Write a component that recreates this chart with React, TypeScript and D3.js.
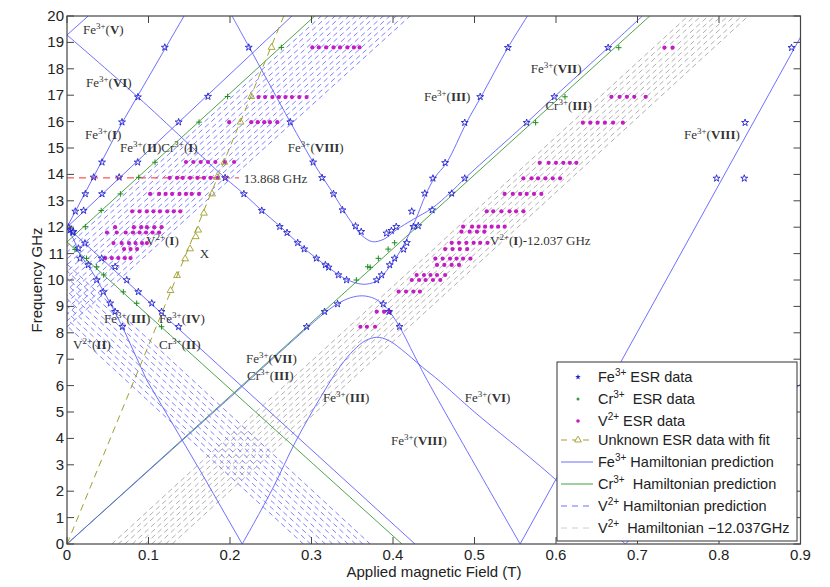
import React from 'react';
import * as d3 from 'd3';

type Pt = [number, number];

// axis ticks
const xTicks = [0, 0.1, 0.2, 0.3, 0.4, 0.5, 0.6, 0.7, 0.8, 0.9];
const yTicks = [0, 1, 2, 3, 4, 5, 6, 7, 8, 9, 10, 11, 12, 13, 14, 15, 16, 17, 18, 19, 20];

// Fe3+ Hamiltonian prediction curves (field T, frequency GHz)
const feV: Pt[] = [[0, 19.28], [0.026, 20]];
const feI: Pt[] = [[0, 12.0], [0.0675, 15.95], [0.1436, 20]];
const feII: Pt[] = [[0, 12.0], [0.276, 20]];
const feIV: Pt[] = [[0, 12.0], [0.427, 0]];
const feIIIlow: Pt[] = [[0, 12.0], [0.008, 11.55], [0.016, 10.95], [0.026, 10.55], [0.037, 10.0], [0.053, 9.12], [0.068, 8.23], [0.098, 6.2], [0.163, 2.8], [0.215, 0]];
const feVIreflect: Pt[] = [[0.685, 0], [0.9, 6.06]];
const feVIIIright: Pt[] = [[0.556, 0], [0.9, 19.2]];
const feVI: Pt[] = [[0, 19.28], [0.087, 16.93], [0.194, 13.87], [0.217, 13.26], [0.239, 12.63], [0.262, 12.02], [0.285, 11.35], [0.307, 10.8], [0.325, 10.38], [0.343, 10.02], [0.363, 9.84], [0.378, 9.93], [0.388, 10.2], [0.397, 10.55], [0.406, 10.95], [0.416, 11.5], [0.428, 12.3], [0.44, 13.22], [0.451, 13.87], [0.466, 14.45], [0.49, 15.95], [0.508, 16.94], [0.541, 18.8], [0.565, 20]];
const feVIII: Pt[] = [[0.2025, 20], [0.223, 18.85], [0.274, 15.98], [0.302, 14.46], [0.314, 13.87], [0.327, 13.26], [0.339, 12.65], [0.351, 12.1], [0.362, 11.68], [0.375, 11.45], [0.389, 11.55], [0.404, 11.9], [0.425, 12.3], [0.448, 12.72], [0.47, 13.3], [0.49, 13.9], [0.564, 15.96], [0.598, 16.94], [0.664, 18.8], [0.706, 20]];
const feVII: Pt[] = [[0, 0], [0.2, 5.55], [0.294, 8.17], [0.316, 8.75], [0.332, 9.1], [0.348, 9.33], [0.363, 9.4], [0.377, 9.3], [0.388, 9.07], [0.397, 8.75], [0.408, 8.23], [0.429, 6.97], [0.442, 6.2], [0.556, 0]];
const feIIIhump: Pt[] = [[0.215, 0], [0.2515, 2.05], [0.28, 3.85], [0.31, 5.5], [0.335, 6.72], [0.352, 7.35], [0.366, 7.7], [0.38, 7.83], [0.394, 7.72], [0.41, 7.38], [0.436, 6.7], [0.458, 6.15], [0.5, 5.0], [0.593, 2.62], [0.685, 0]];

// Cr3+ Hamiltonian prediction (green)
const crI: Pt[] = [[0, 11.44], [0.304, 20]];
const crII: Pt[] = [[0, 11.44], [0.411, 0]];
const crIII: Pt[] = [[0, 0], [0.715, 20]];

// unknown line fit and 13.868 GHz marker
const unknownFit: Pt[] = [[0, 0], [0.266, 20]];
const refLine: Pt[] = [[0, 13.868], [0.211, 13.868]];

// V2+ hyperfine lines [x0, f0, x1, f1]
const vBandI: number[][] = [
  [-0.117, 8, 0.312, 20], [-0.109, 8, 0.32, 20], [-0.1, 8, 0.329, 20], [-0.092, 8, 0.337, 20],
  [-0.083, 8, 0.346, 20], [-0.075, 8, 0.354, 20], [-0.067, 8, 0.362, 20], [-0.058, 8, 0.371, 20],
  [-0.05, 8, 0.379, 20], [-0.041, 8, 0.388, 20], [-0.033, 8, 0.396, 20], [-0.025, 8, 0.404, 20],
  [-0.016, 8, 0.413, 20], [-0.008, 8, 0.421, 20],
];
const vBandII: number[][] = [
  [-0.082, 10.6, 0.29, 0], [-0.073, 10.6, 0.299, 0], [-0.064, 10.6, 0.308, 0], [-0.055, 10.6, 0.317, 0],
  [-0.046, 10.6, 0.326, 0], [-0.036, 10.6, 0.336, 0], [-0.027, 10.6, 0.345, 0], [-0.018, 10.6, 0.354, 0],
  [-0.009, 10.6, 0.363, 0], [0.0, 10.6, 0.372, 0],
];
const vBandShift: number[][] = [
  [0.055, 0, 0.762, 20], [0.063, 0, 0.77, 20], [0.071, 0, 0.778, 20], [0.08, 0, 0.787, 20],
  [0.088, 0, 0.795, 20], [0.096, 0, 0.803, 20], [0.104, 0, 0.811, 20], [0.112, 0, 0.819, 20],
  [0.121, 0, 0.828, 20], [0.129, 0, 0.836, 20],
];

// Fe3+ ESR data
const feData: Pt[] = [
  [0.0102, 12.6], [0.0225, 13.26], [0.0327, 13.89], [0.043, 14.46], [0.0675, 15.98], [0.087, 16.93], [0.12, 18.81],
  [0.0204, 12.63], [0.043, 13.26], [0.064, 13.89], [0.0867, 14.46], [0.137, 15.98], [0.173, 16.95],
  [0.194, 13.87], [0.217, 13.26], [0.239, 12.63], [0.261, 12.02], [0.27, 11.79], [0.283, 11.41], [0.291, 11.17],
  [0.306, 10.82], [0.317, 10.57], [0.321, 10.48], [0.333, 10.19], [0.343, 10.0],
  [0.38, 10.0], [0.386, 10.19], [0.396, 10.57], [0.402, 10.82], [0.413, 11.16], [0.417, 11.41], [0.423, 12.6],
  [0.439, 13.28], [0.449, 13.85], [0.464, 14.44], [0.488, 15.96], [0.507, 16.94], [0.541, 18.8],
  [0.223, 18.81], [0.274, 15.98], [0.302, 14.46], [0.313, 13.87], [0.327, 13.26], [0.338, 12.65], [0.354, 12.04],
  [0.361, 11.83], [0.392, 11.77], [0.398, 11.87], [0.404, 12.02], [0.425, 12.02], [0.431, 12.05], [0.448, 12.65],
  [0.472, 13.28], [0.488, 13.85], [0.564, 15.96], [0.598, 16.94], [0.664, 18.8],
  [0.294, 8.23], [0.316, 8.8], [0.332, 9.09], [0.388, 9.09], [0.395, 8.8], [0.408, 8.23],
  [0.797, 13.85], [0.831, 13.85], [0.832, 15.96], [0.889, 18.8],
  [0.0078, 11.83], [0.022, 11.39], [0.0425, 10.82], [0.059, 10.5], [0.0733, 10.0], [0.0875, 9.55], [0.104, 9.12], [0.116, 8.8], [0.137, 8.23],
  [0.016, 10.82], [0.026, 10.57], [0.0364, 10.0], [0.0446, 9.55], [0.053, 9.12], [0.059, 8.8], [0.068, 8.23],
  [0.0037, 11.89], [0.007, 11.8], [0.014, 11.2], [0.002, 12.0],
];

// Cr3+ ESR data
const crData: Pt[] = [
  [0.0225, 12.02], [0.042, 12.63], [0.0655, 13.26], [0.088, 13.89], [0.108, 14.46], [0.162, 15.98], [0.197, 16.95], [0.263, 18.81],
  [0.0098, 11.16], [0.024, 10.82], [0.0364, 10.5], [0.045, 10.19], [0.0691, 9.55], [0.0855, 9.12], [0.116, 8.23],
  [0.355, 10.0], [0.369, 10.5], [0.372, 10.48], [0.382, 10.82], [0.394, 11.17], [0.402, 11.41],
  [0.575, 15.96], [0.611, 16.94], [0.677, 18.8],
];

// V2+ ESR data rows: frequency and fields
const vRowsI: { f: number; xs: number[] }[] = [
  { f: 18.81, xs: [0.301, 0.309, 0.318, 0.327, 0.335, 0.344, 0.352, 0.359] },
  { f: 16.93, xs: [0.235, 0.243, 0.252, 0.26, 0.268, 0.276, 0.285, 0.294] },
  { f: 15.98, xs: [0.199, 0.226, 0.234, 0.242, 0.249, 0.258] },
  { f: 14.47, xs: [0.146, 0.155, 0.164, 0.173, 0.182, 0.194, 0.205] },
  { f: 13.87, xs: [0.126, 0.135, 0.142, 0.151, 0.16, 0.168, 0.176, 0.185] },
  { f: 13.26, xs: [0.102, 0.113, 0.121, 0.129, 0.138, 0.146, 0.153, 0.162] },
  { f: 12.6, xs: [0.08, 0.089, 0.098, 0.106, 0.114, 0.123, 0.131, 0.139] },
  { f: 12.0, xs: [0.059, 0.082, 0.091, 0.098, 0.107, 0.116] },
  { f: 11.8, xs: [0.049, 0.061, 0.072, 0.081, 0.089, 0.097, 0.105, 0.113] },
  { f: 11.4, xs: [0.057, 0.067, 0.076, 0.084, 0.092, 0.098] },
  { f: 11.17, xs: [0.07, 0.078, 0.086] },
  { f: 10.83, xs: [0.047, 0.055, 0.063, 0.071, 0.078] },
];
const vRowsShift: { f: number; xs: number[] }[] = [
  { f: 18.8, xs: [0.733, 0.743] },
  { f: 16.94, xs: [0.668, 0.678, 0.687, 0.696, 0.71] },
  { f: 15.96, xs: [0.633, 0.642, 0.651, 0.66, 0.67, 0.682] },
  { f: 14.44, xs: [0.58, 0.591, 0.6, 0.609, 0.617, 0.625] },
  { f: 13.85, xs: [0.56, 0.57, 0.578, 0.587, 0.596, 0.605] },
  { f: 13.26, xs: [0.537, 0.547, 0.556, 0.564, 0.573, 0.582] },
  { f: 12.6, xs: [0.515, 0.523, 0.533, 0.543, 0.551, 0.56] },
  { f: 12.02, xs: [0.486, 0.497, 0.505, 0.513, 0.521, 0.529, 0.537] },
  { f: 11.83, xs: [0.484, 0.494, 0.503, 0.512] },
  { f: 11.41, xs: [0.472, 0.481, 0.49, 0.499, 0.507, 0.516] },
  { f: 11.17, xs: [0.464, 0.473, 0.482, 0.491] },
  { f: 10.81, xs: [0.452, 0.461, 0.47, 0.478, 0.486, 0.495] },
  { f: 10.57, xs: [0.454, 0.463, 0.472, 0.481] },
  { f: 10.19, xs: [0.429, 0.438, 0.446, 0.454, 0.464] },
  { f: 10.0, xs: [0.423, 0.432, 0.44, 0.449, 0.458] },
  { f: 9.56, xs: [0.407, 0.416, 0.425, 0.433] },
  { f: 8.8, xs: [0.38, 0.389, 0.396] },
  { f: 8.23, xs: [0.36, 0.368, 0.378] },
];

// unknown ESR data
const unknownData: Pt[] = [
  [0.127, 9.6], [0.135, 10.17], [0.145, 10.8], [0.151, 11.18], [0.158, 11.64], [0.161, 11.89], [0.168, 12.53],
  [0.178, 13.26], [0.184, 13.89], [0.193, 14.46], [0.213, 15.98], [0.226, 16.95], [0.251, 18.81],
];

// annotations: [ion, charge, roman]
const ionLabels: { x: number; y: number; parts: string[][]; tail?: string }[] = [
  { x: 0.0196, y: 19.32, parts: [['Fe', '3+', 'V']] },
  { x: 0.0233, y: 17.31, parts: [['Fe', '3+', 'VI']] },
  { x: 0.0221, y: 15.34, parts: [['Fe', '3+', 'I']] },
  { x: 0.065, y: 14.85, parts: [['Fe', '3+', 'II'], ['Cr', '3+', 'I']] },
  { x: 0.271, y: 14.85, parts: [['Fe', '3+', 'VIII']] },
  { x: 0.438, y: 16.78, parts: [['Fe', '3+', 'III']] },
  { x: 0.569, y: 17.84, parts: [['Fe', '3+', 'VII']] },
  { x: 0.587, y: 16.44, parts: [['Cr', '3+', 'III']] },
  { x: 0.757, y: 15.34, parts: [['Fe', '3+', 'VIII']] },
  { x: 0.097, y: 11.33, parts: [['V', '2+', 'I']] },
  { x: 0.519, y: 11.33, parts: [['V', '2+', 'I']], tail: '-12.037 GHz' },
  { x: 0.0454, y: 8.37, parts: [['Fe', '3+', 'III']] },
  { x: 0.113, y: 8.37, parts: [['Fe', '3+', 'IV']] },
  { x: 0.0074, y: 7.39, parts: [['V', '2+', 'II']] },
  { x: 0.113, y: 7.39, parts: [['Cr', '3+', 'II']] },
  { x: 0.2196, y: 6.87, parts: [['Fe', '3+', 'VII']] },
  { x: 0.221, y: 6.2, parts: [['Cr', '3+', 'III']] },
  { x: 0.314, y: 5.38, parts: [['Fe', '3+', 'III']] },
  { x: 0.488, y: 5.38, parts: [['Fe', '3+', 'VI']] },
  { x: 0.3975, y: 3.75, parts: [['Fe', '3+', 'VIII']] },
];
const plainLabels: { x: number; y: number; t: string }[] = [
  { x: 0.217, y: 13.67, t: '13.868 GHz' },
  { x: 0.163, y: 10.83, t: 'X' },
];

const BLUE = '#5f5fff';
const STAR = '#2222cc';
const GREEN = '#3a9a3a';
const MAGENTA = '#c41cc4';
const OLIVE = '#a0a030';
const GRAY = '#9a9a9a';
const SANS = 'Liberation Sans, Arial, sans-serif';
const SERIF = 'Liberation Serif, Times New Roman, serif';

const App = () => {
  const x = d3.scaleLinear().domain([0, 0.9]).range([67, 800.5]);
  const y = d3.scaleLinear().domain([0, 20]).range([544, 16]);
  const straight = d3.line<Pt>().x(d => x(d[0])).y(d => y(d[1]));
  const smooth = d3.line<Pt>().x(d => x(d[0])).y(d => y(d[1])).curve(d3.curveCatmullRom.alpha(0.5));
  const seg = (s: number[]) => straight([[s[0], s[1]], [s[2], s[3]]]) as string;
  const starPath = d3.symbol(d3.symbolStar, 15)() as string;
  const triPath = d3.symbol(d3.symbolTriangle, 20)() as string;
  const plusPath = 'M-2.8,0H2.8M0,-2.8V2.8';

  const [x0, x1] = x.range();
  const [yb, yt] = y.range();

  const ion = (p: string[], i: number) => (
    <React.Fragment key={i}>
      <tspan>{p[0]}</tspan>
      <tspan dy={-5} fontSize={9}>{p[1]}</tspan>
      <tspan dy={5}>(</tspan>
      <tspan fontWeight="bold">{p[2]}</tspan>
      <tspan>)</tspan>
    </React.Fragment>
  );

  const legendRows = [
    { yy: 377, kind: 'star', label: ['Fe', '3+', ' ESR data'] },
    { yy: 399, kind: 'gdot', label: ['Cr', '3+', '  ESR data'] },
    { yy: 421, kind: 'mdot', label: ['V', '2+', ' ESR data'] },
    { yy: 440, kind: 'tri', label: ['Unknown ESR data with fit', '', ''] },
    { yy: 462, kind: 'fe', label: ['Fe', '3+', ' Hamiltonian prediction'] },
    { yy: 484, kind: 'cr', label: ['Cr', '3+', '  Hamiltonian prediction'] },
    { yy: 506, kind: 'v', label: ['V', '2+', ' Hamiltonian prediction'] },
    { yy: 528, kind: 'vs', label: ['V', '2+', '  Hamiltonian \u221212.037GHz'] },
  ];

  return (
    <svg width={830} height={587} style={{ position: 'absolute', left: 0, top: 0, background: '#fff' }}>
      <defs>
        <clipPath id="plot">
          <rect x={x0} y={yt} width={x1 - x0} height={yb - yt} />
        </clipPath>
      </defs>

      <g clipPath="url(#plot)">
        {/* V2+ predicted hyperfine lines */}
        {vBandShift.map((s, i) => (
          <path key={'g' + i} d={seg(s)} stroke={GRAY} strokeWidth={0.8} strokeDasharray="5,3.5" fill="none" />
        ))}
        {vBandI.concat(vBandII).map((s, i) => (
          <path key={'v' + i} d={seg(s)} stroke={BLUE} strokeWidth={0.8} strokeDasharray="5,3.5" fill="none" />
        ))}

        {/* Cr3+ prediction */}
        {[crI, crII, crIII].map((c, i) => (
          <path key={'c' + i} d={straight(c) as string} stroke={GREEN} strokeWidth={0.9} fill="none" />
        ))}

        {/* Fe3+ prediction */}
        {[feV, feI, feII, feIV, feIIIlow, feVIreflect, feVIIIright].map((c, i) => (
          <path key={'f' + i} d={straight(c) as string} stroke={BLUE} strokeWidth={0.9} fill="none" />
        ))}
        {[feVI, feVIII, feVII, feIIIhump].map((c, i) => (
          <path key={'s' + i} d={smooth(c) as string} stroke={BLUE} strokeWidth={0.9} fill="none" />
        ))}

        {/* unknown fit and reference line */}
        <path d={straight(unknownFit) as string} stroke={OLIVE} strokeWidth={1} strokeDasharray="7,5" fill="none" />
        <path d={straight(refLine) as string} stroke="#ff2a2a" strokeWidth={1} strokeDasharray="7,5" fill="none" />

        {/* data */}
        {vRowsI.concat(vRowsShift).map((r, i) =>
          r.xs.map((v, j) => (
            <circle key={'m' + i + '-' + j} cx={x(v)} cy={y(r.f)} r={2.1} fill={MAGENTA} />
          ))
        )}
        {unknownData.map((d, i) => (
          <path key={'u' + i} d={triPath} transform={`translate(${x(d[0])},${y(d[1])})`} fill="none" stroke={OLIVE} strokeWidth={0.9} />
        ))}
        {crData.map((d, i) => (
          <path key={'p' + i} d={plusPath} transform={`translate(${x(d[0])},${y(d[1])})`} stroke="#1c8c1c" strokeWidth={1} />
        ))}
        {feData.map((d, i) => (
          <path key={'st' + i} d={starPath} transform={`translate(${x(d[0])},${y(d[1])})`} fill="none" stroke={STAR} strokeWidth={0.9} />
        ))}
      </g>

      {/* annotations */}
      {ionLabels.map((l, i) => (
        <text key={'l' + i} x={x(l.x)} y={y(l.y)} fontFamily={SERIF} fontSize={13} fill="#333">
          {l.parts.map((p, j) => ion(p, j))}
          {l.tail ? <tspan>{l.tail}</tspan> : null}
        </text>
      ))}
      {plainLabels.map((l, i) => (
        <text key={'pl' + i} x={x(l.x)} y={y(l.y)} fontFamily={SERIF} fontSize={13} fill="#333">{l.t}</text>
      ))}

      {/* frame and ticks */}
      <rect x={x0} y={yt} width={x1 - x0} height={yb - yt} fill="none" stroke="#444" strokeWidth={1.2} />
      {xTicks.map(t => (
        <g key={'xt' + t}>
          <line x1={x(t)} x2={x(t)} y1={yb} y2={yb - 7} stroke="#444" />
          <line x1={x(t)} x2={x(t)} y1={yt} y2={yt + 7} stroke="#444" />
          <text x={x(t)} y={yb + 16} textAnchor="middle" fontFamily={SANS} fontSize={15} fill="#222">{t}</text>
        </g>
      ))}
      {yTicks.map(t => (
        <g key={'yt' + t}>
          <line x1={x0} x2={x0 + 7} y1={y(t)} y2={y(t)} stroke="#444" />
          <line x1={x1} x2={x1 - 7} y1={y(t)} y2={y(t)} stroke="#444" />
          <text x={x0 - 3} y={y(t) + 5} textAnchor="end" fontFamily={SANS} fontSize={15} fill="#222">{t}</text>
        </g>
      ))}
      <text x={434} y={577} textAnchor="middle" fontFamily={SANS} fontSize={15} fill="#222">Applied magnetic Field (T)</text>
      <text transform="translate(42,280) rotate(-90)" textAnchor="middle" fontFamily={SANS} fontSize={15} fill="#222">Frequency GHz</text>

      {/* legend */}
      <rect x={557} y={362} width={240} height={179} fill="#fff" stroke="#333" strokeWidth={1} />
      {legendRows.map(r => (
        <g key={r.kind}>
          {r.kind === 'star' && <path d={d3.symbol(d3.symbolStar, 10)() as string} transform={`translate(578,${r.yy})`} fill={STAR} />}
          {r.kind === 'gdot' && <circle cx={578} cy={r.yy} r={1.5} fill={GREEN} />}
          {r.kind === 'mdot' && <circle cx={578} cy={r.yy} r={1.8} fill={MAGENTA} />}
          {r.kind === 'tri' && (
            <g>
              <line x1={561} x2={593} y1={r.yy} y2={r.yy} stroke={OLIVE} strokeDasharray="6,5" />
              <path d={triPath} transform={`translate(578,${r.yy})`} fill="#fff" stroke={OLIVE} strokeWidth={0.9} />
            </g>
          )}
          {r.kind === 'fe' && <line x1={561} x2={593} y1={r.yy} y2={r.yy} stroke={BLUE} strokeWidth={0.9} />}
          {r.kind === 'cr' && <line x1={561} x2={593} y1={r.yy} y2={r.yy} stroke="#7fc07f" strokeWidth={1.5} />}
          {r.kind === 'v' && <line x1={561} x2={593} y1={r.yy} y2={r.yy} stroke={BLUE} strokeWidth={0.9} strokeDasharray="6,5" />}
          {r.kind === 'vs' && <line x1={561} x2={593} y1={r.yy} y2={r.yy} stroke="#c8c8c8" strokeWidth={0.9} strokeDasharray="6,5" />}
          <text x={598} y={r.yy + 5} fontFamily={SANS} fontSize={14.5} fill="#222" style={{ whiteSpace: 'pre' }}>
            <tspan>{r.label[0]}</tspan>
            {r.label[1] ? <tspan dy={-6} fontSize={10}>{r.label[1]}</tspan> : null}
            {r.label[1] ? <tspan dy={6}>{r.label[2]}</tspan> : null}
          </text>
        </g>
      ))}
    </svg>
  );
};

export default App;
